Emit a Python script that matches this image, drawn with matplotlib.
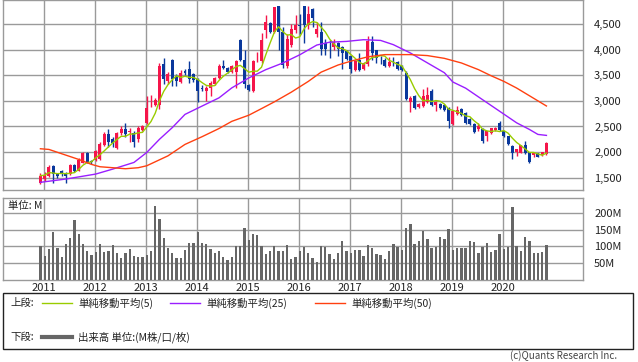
import numpy as np
import pandas as pd
import matplotlib
matplotlib.use("Agg")
import matplotlib.pyplot as plt
from matplotlib.patches import Rectangle
from matplotlib.lines import Line2D

plt.rcParams['font.family'] = ['Noto Sans CJK JP', 'DejaVu Sans']

# 月足 2010/12 - 2020/11
opens = [1400, 1480, 1530, 1730, 1565, 1640, 1600, 1565, 1740, 1640, 1790, 1990,
         1830, 1840, 1860, 2130, 2345, 2250, 2085, 2365, 2455, 2390, 2365, 2250,
         2440, 2570, 2930, 2920, 2920, 3710, 3390, 3800, 3480, 3370, 3590, 3625,
         3515, 3420, 3250, 3195, 3260, 3320, 3450, 3690, 3645, 3560, 3560, 4195,
         3800, 3300, 3190, 3770, 3770, 4380, 4515, 4353, 4850, 4353, 3674, 4094,
         4386, 4470, 4850, 4480, 4790, 4300, 4350, 4125, 4015, 4050, 4125, 4050,
         3970, 3870, 3600, 3805, 3625, 3710, 4140, 3990, 3760, 3795, 3680, 3760,
         3755, 3680, 3550, 2980, 3100, 2890, 2905, 2970, 3195, 2915, 2935, 2915,
         2870, 2550, 2750, 2840, 2765, 2650, 2540, 2442, 2455, 2313, 2377, 2429,
         2571, 2410, 2313, 2119, 2003, 1990, 2132, 2003, 1939, 1978, 1939, 1958]
highs = [1590, 1620, 1740, 1745, 1600, 1660, 1620, 1760, 1760, 1880, 2010, 2010,
         1850, 2040, 2200, 2400, 2450, 2300, 2400, 2500, 2570, 2480, 2420, 2500,
         2530, 3100, 3120, 3050, 3740, 3840, 3560, 3810, 3520, 3600, 3620, 3770,
         3540, 3440, 3300, 3290, 3380, 3470, 3710, 3790, 3670, 3700, 3800, 4200,
         3990, 3330, 3790, 3960, 4320, 4677, 4530, 4830, 4860, 4450, 4300, 4500,
         4680, 4700, 4860, 4850, 4810, 4530, 4540, 4200, 4180, 4200, 4150, 4080,
         3990, 3880, 3800, 3935, 3760, 4260, 4260, 4000, 3870, 3830, 3860, 3860,
         3770, 3700, 3590, 3100, 3120, 2960, 3240, 3270, 3230, 2990, 2960, 2940,
         2880, 2810, 2900, 2860, 2780, 2660, 2560, 2570, 2470, 2420, 2480, 2490,
         2603, 2420, 2320, 2130, 2070, 2140, 2216, 2010, 2000, 1990, 2010, 2200]
lows = [1370, 1440, 1510, 1390, 1500, 1540, 1400, 1550, 1620, 1630, 1780, 1790,
        1770, 1830, 1850, 2120, 2100, 2100, 2070, 2340, 2300, 2200, 2100, 2200,
        2420, 2550, 2880, 2900, 2840, 3320, 3330, 3290, 3290, 3340, 3500, 3350,
        3360, 2970, 3200, 2990, 3100, 3300, 3430, 3620, 3540, 3540, 3250, 3780,
        3260, 3190, 3170, 3750, 3740, 4224, 4320, 4330, 3990, 3640, 3640, 4060,
        4330, 4300, 4125, 4400, 4440, 4250, 3900, 3900, 3830, 4000, 3880, 3620,
        3800, 3550, 3580, 3580, 3600, 3690, 3805, 3740, 3710, 3660, 3660, 3680,
        3600, 3580, 3010, 2790, 2850, 2860, 2880, 2950, 2900, 2800, 2850, 2800,
        2480, 2530, 2720, 2700, 2550, 2520, 2380, 2420, 2184, 2216, 2360, 2410,
        2420, 2300, 2140, 1861, 1926, 1980, 1970, 1790, 1900, 1900, 1930, 1950]
closes = [1540, 1560, 1700, 1565, 1530, 1565, 1530, 1740, 1630, 1840, 1975, 1800,
          1800, 2020, 2150, 2345, 2195, 2180, 2365, 2455, 2345, 2410, 2195, 2475,
          2500, 2870, 2940, 3010, 3690, 3420, 3520, 3420, 3390, 3535, 3535, 3420,
          3405, 3195, 3230, 3260, 3355, 3450, 3690, 3645, 3560, 3680, 3775, 3805,
          3330, 3210, 3770, 3785, 4190, 4547, 4340, 4825, 4340, 3706, 4205, 4400,
          4483, 4460, 4480, 4695, 4615, 4400, 4010, 4010, 4005, 4140, 4010, 3930,
          3820, 3625, 3775, 3610, 3740, 4160, 3935, 3840, 3750, 3680, 3755, 3750,
          3625, 3600, 3030, 3065, 2870, 2935, 3100, 3110, 2915, 2970, 2870, 2825,
          2610, 2800, 2830, 2715, 2570, 2540, 2400, 2506, 2216, 2410, 2474, 2474,
          2429, 2313, 2152, 1990, 2055, 2132, 1978, 1810, 1990, 1913, 2003, 2184]
volume_m = [102, 72, 93, 144, 96, 69, 108, 126, 180, 138, 108, 87,
            75, 84, 108, 84, 87, 105, 81, 66, 81, 93, 72, 69,
            69, 75, 87, 219, 183, 126, 96, 81, 66, 66, 90, 111,
            111, 144, 111, 108, 93, 81, 87, 69, 60, 69, 102, 100,
            156, 120, 138, 135, 102, 78, 87, 102, 87, 87, 105, 63,
            69, 87, 99, 81, 66, 54, 102, 99, 78, 63, 81, 117,
            87, 81, 90, 90, 72, 105, 96, 78, 75, 63, 87, 108,
            99, 90, 156, 168, 108, 117, 147, 123, 96, 99, 129, 123,
            153, 90, 96, 96, 96, 117, 114, 81, 99, 111, 84, 90,
            138, 93, 99, 216, 102, 87, 129, 117, 81, 81, 84, 105]

# 移動平均
ma25_idx = [0, 6, 13, 17, 22, 25, 28, 31, 34, 38, 42, 45, 49, 53, 57, 61, 65,
            68, 72, 76, 80, 83, 87, 91, 95, 97, 100, 104, 108, 112, 115, 117, 119]
ma25_val = [1410, 1474, 1571, 1668, 1798, 1992, 2250, 2477, 2736, 2898, 3059, 3253,
            3447, 3609, 3739, 3900, 4090, 4145, 4161, 4194, 4180, 4097, 3935, 3742,
            3549, 3368, 3248, 3022, 2797, 2571, 2442, 2345, 2326]
ma50_idx = [0, 2, 5, 9, 12, 14, 17, 20, 23, 25, 30, 34, 38, 42, 45, 49, 52, 55,
            59, 63, 66, 70, 73, 77, 81, 87, 91, 95, 99, 103, 106, 109, 112, 116, 119]
ma50_val = [2065, 2052, 1968, 1857, 1760, 1714, 1695, 1675, 1695, 1733, 1927, 2150,
            2300, 2460, 2600, 2720, 2849, 2980, 3170, 3380, 3560, 3700, 3775, 3860,
            3903, 3903, 3884, 3830, 3740, 3610, 3490, 3380, 3250, 3050, 2900]

years = ['2011', '2012', '2013', '2014', '2015', '2016', '2017', '2018', '2019', '2020']
jan_index = [1 + 12 * k for k in range(len(years))]
price_ticks = [1500, 2000, 2500, 3000, 3500, 4000, 4500]
vol_ticks = [50, 100, 150, 200]

RED = '#f5154a'
BLUE = '#0a389c'
GRID = '#9a9a9a'

fig = plt.figure(figsize=(6.38, 3.62), dpi=100)
W, H = 638, 362
ax = fig.add_axes([3 / W, 1 - 190 / H, 580 / W, 190 / H])
axv = fig.add_axes([3 / W, 1 - 280 / H, 580 / W, 82 / H])

x = np.arange(len(closes))
o = np.array(opens); c = np.array(closes)
colors = [RED if cc >= oo else BLUE for oo, cc in zip(o, c)]
ax.vlines(x, lows, highs, colors=colors, lw=1, zorder=3)
body = np.maximum(np.abs(c - o), 12)
ax.bar(x, body, bottom=np.minimum(o, c), width=0.7, color=colors, lw=0, zorder=3)

ma5 = pd.Series(closes).rolling(5, min_periods=1).mean()
ax.plot(x, ma5, color='#99cc00', lw=1, zorder=4)
ax.plot(ma25_idx, ma25_val, color='#9a1eff', lw=1, zorder=4)
ax.plot(ma50_idx, ma50_val, color='#ff4010', lw=1, zorder=4)

grid_x = [j - 0.15 for j in jan_index]
for a in (ax, axv):
    a.set_xlim(-8.8, 127.6)
    a.set_xticks(grid_x)
    a.grid(True, color=GRID, lw=1)
    a.set_axisbelow(True)
    a.yaxis.tick_right()
    a.tick_params(length=0, labelsize=8, colors='#222222', pad=8)
    for s in a.spines.values():
        s.set_color(GRID)
        s.set_linewidth(1)

ax.set_ylim(1260, 4969)
ax.set_yticks(price_ticks)
ax.set_yticklabels([f'{t:,}' for t in price_ticks])
ax.set_xticklabels([])

axv.bar(x, volume_m, width=0.55, color='#666666', lw=0, zorder=3)
axv.set_ylim(0, 244)
axv.set_yticks(vol_ticks)
axv.set_yticklabels([f'{t}M' for t in vol_ticks])
axv.set_xticklabels(years)
axv.tick_params(axis='x', pad=2)
axv.text(0.008, 0.96, '単位: M', transform=axv.transAxes, ha='left', va='top',
         fontsize=7.5, color='#222222')

# 凡例ボックス
def fx(px):
    return px / W

def fy(py):
    return 1 - py / H

fig.add_artist(Rectangle((fx(3), fy(349)), fx(633) - fx(3), fy(293) - fy(349),
                         transform=fig.transFigure, fill=False, ec='#222222', lw=1))
row1, row2 = 303, 337
fig.text(fx(10), fy(row1), '上段:', fontsize=7.5, va='center', color='#222222')
items = [('#99cc00', 42, '単純移動平均(5)'), ('#9a1eff', 170, '単純移動平均(25)'),
         ('#ff4010', 315, '単純移動平均(50)')]
for col, x0, lab in items:
    fig.add_artist(Line2D([fx(x0), fx(x0 + 30)], [fy(row1), fy(row1)],
                          transform=fig.transFigure, color=col, lw=1))
    fig.text(fx(x0 + 36), fy(row1), lab, fontsize=7.5, va='center', color='#222222')
fig.text(fx(10), fy(row2), '下段:', fontsize=7.5, va='center', color='#222222')
fig.add_artist(Line2D([fx(42), fx(72)], [fy(row2), fy(row2)],
                      transform=fig.transFigure, color='#666666', lw=3))
fig.text(fx(78), fy(row2), '出来高 単位:(M株/口/枚)', fontsize=7.5, va='center', color='#222222')
fig.text(fx(617), fy(356), '(c)Quants Research Inc.', fontsize=7, ha='right', va='center',
         color='#444444')

fig.savefig('out.png', dpi=100)
